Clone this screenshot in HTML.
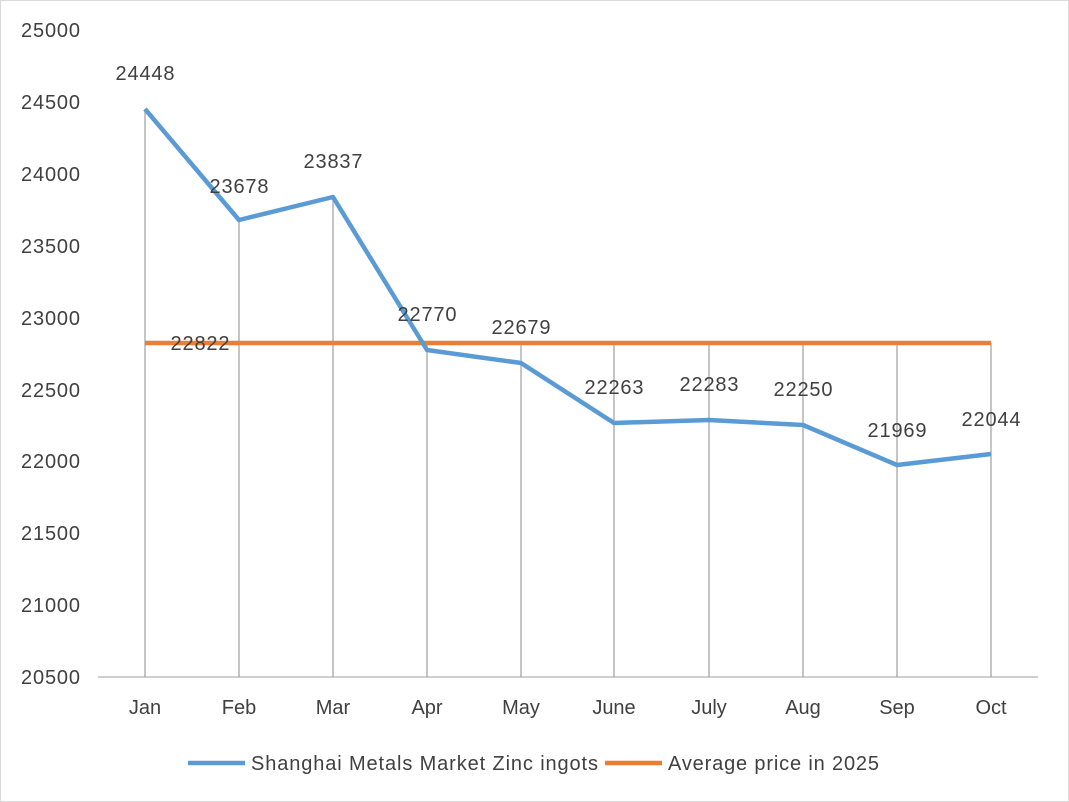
<!DOCTYPE html>
<html><head><meta charset="utf-8"><style>
body{margin:0;background:#fff}
svg{display:block}
text{font-family:"Liberation Sans",sans-serif;fill:#404040}
</style></head><body>
<svg width="1069" height="802" viewBox="0 0 1069 802">
<rect x="0.5" y="0.5" width="1068" height="801" fill="#fff" stroke="#d9d9d9"/>
<g font-size="20" text-anchor="end">
<text x="80" y="37" textLength="59">25000</text>
<text x="80" y="109" textLength="59">24500</text>
<text x="80" y="181" textLength="59">24000</text>
<text x="80" y="253" textLength="59">23500</text>
<text x="80" y="325" textLength="59">23000</text>
<text x="80" y="397" textLength="59">22500</text>
<text x="80" y="468" textLength="59">22000</text>
<text x="80" y="540" textLength="59">21500</text>
<text x="80" y="612" textLength="59">21000</text>
<text x="80" y="684" textLength="59">20500</text>
</g>
<line x1="98" y1="677" x2="1038" y2="677" stroke="#bfbfbf" stroke-width="1.5"/>
<g stroke="#a6a6a6" stroke-width="1.3">
<line x1="145" y1="109" x2="145" y2="677"/>
<line x1="239" y1="220" x2="239" y2="677"/>
<line x1="333" y1="197" x2="333" y2="677"/>
<line x1="427" y1="343" x2="427" y2="677"/>
<line x1="521" y1="343" x2="521" y2="677"/>
<line x1="614" y1="343" x2="614" y2="677"/>
<line x1="709" y1="343" x2="709" y2="677"/>
<line x1="803" y1="343" x2="803" y2="677"/>
<line x1="897" y1="343" x2="897" y2="677"/>
<line x1="991" y1="343" x2="991" y2="677"/>
</g>
<line x1="145" y1="343" x2="991" y2="343" stroke="#ed7d31" stroke-width="4.5"/>
<polyline fill="none" stroke="#5b9bd5" stroke-width="4.5" stroke-linejoin="round" points="145,109 239,220 333,197 427,350 521,363 614,423 709,420 803,425 897,465 991,454"/>
<g font-size="20" text-anchor="middle">
<text x="145" y="80" textLength="59">24448</text>
<text x="239" y="193" textLength="59">23678</text>
<text x="333" y="168" textLength="59">23837</text>
<text x="427" y="321" textLength="59">22770</text>
<text x="521" y="334" textLength="59">22679</text>
<text x="614" y="394" textLength="59">22263</text>
<text x="709" y="391" textLength="59">22283</text>
<text x="803" y="396" textLength="59">22250</text>
<text x="897" y="437" textLength="59">21969</text>
<text x="991" y="426" textLength="59">22044</text>
<text x="200" y="350" textLength="59">22822</text>
</g>
<g font-size="20" text-anchor="middle">
<text x="145" y="714">Jan</text>
<text x="239" y="714">Feb</text>
<text x="333" y="714">Mar</text>
<text x="427" y="714">Apr</text>
<text x="521" y="714">May</text>
<text x="614" y="714">June</text>
<text x="709" y="714">July</text>
<text x="803" y="714">Aug</text>
<text x="897" y="714">Sep</text>
<text x="991" y="714">Oct</text>
</g>
<line x1="188" y1="763" x2="245" y2="763" stroke="#5b9bd5" stroke-width="4.5"/>
<text x="251" y="770" font-size="20" textLength="347">Shanghai Metals Market Zinc ingots</text>
<line x1="605" y1="763" x2="662" y2="763" stroke="#ed7d31" stroke-width="4.5"/>
<text x="668" y="770" font-size="20" textLength="211">Average price in 2025</text>
</svg>
</body></html>
